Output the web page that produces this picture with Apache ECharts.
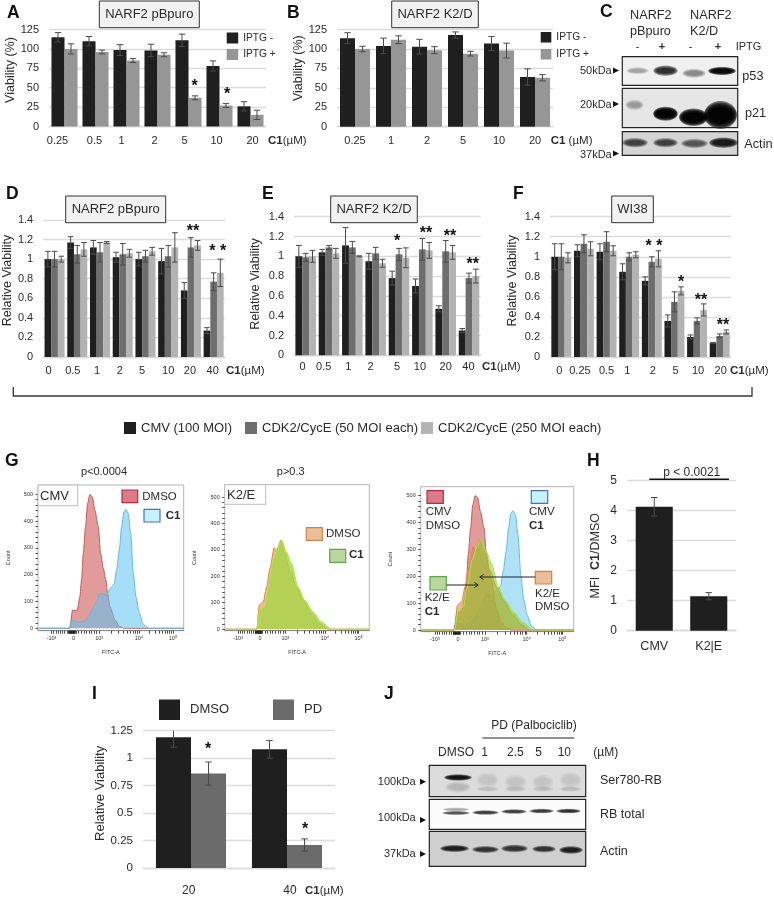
<!DOCTYPE html>
<html><head><meta charset="utf-8">
<style>html,body{margin:0;padding:0;background:#fff}#c{width:774px;height:899px}</style>
<script src="https://cdn.jsdelivr.net/npm/echarts@6/dist/echarts.min.js"></script>
</head><body><div id="c"></div>
<script>
// ---------- data ----------
const catA = ['0.25','0.5','1','2','5','10','20'];
const aMinus = [115,110,98.5,98,111,78,26];
const aPlus = [100,96,85,92.5,37,27,15];
const aMinusErr = [6,6,7,8,8,6.5,6];
const aPlusErr = [6.5,2.5,2.5,2.5,2.5,2.5,6];

const catB = ['0.25','1','2','5','10','20'];
const bMinus = [114,104,103,118,107,64];
const bPlus = [100,112,98.5,94,98,63];
const bMinusErr = [7,10,9.5,4,9,10.5];
const bPlusErr = [3.5,5,4.5,3,9.5,4];

const catD = ['0','0.5','1','2','5','10','20','40'];
const dCmv = [1,1.17,1.12,1.02,1,0.98,0.68,0.27];
const dLow = [1,1.05,1.07,1.05,1.03,1.03,1.12,0.77];
const dHigh = [1,1.1,1.17,1.06,1.08,1.12,1.14,0.86];
const dCmvErr = [0.08,0.06,0.07,0.05,0.07,0.13,0.08,0.03];
const dLowErr = [0.08,0.09,0.1,0.11,0.06,0.11,0.1,0.09];
const dHighErr = [0.03,0.07,0.01,0.04,0.04,0.15,0.05,0.14];

const catE = ['0','0.5','1','2','5','10','20','40'];
const eCmv = [1,1.04,1.11,0.95,0.78,0.7,0.47,0.25];
const eLow = [0.99,1.09,1.09,1.03,1.02,1.07,1.05,0.78];
const eHigh = [1,1.03,1,0.93,0.985,1.06,1.04,0.8];
const eCmvErr = [0.11,0.03,0.18,0.08,0.07,0.07,0.03,0.02];
const eLowErr = [0.04,0.02,0.06,0.06,0.06,0.11,0.11,0.05];
const eHighErr = [0.06,0.05,0.005,0.04,0.1,0.08,0.07,0.07];

const catF = ['0','0.25','0.5','1','2','5','10','20'];
const fCmv = [1,1.06,1.05,0.85,0.76,0.36,0.2,0.14];
const fLow = [1,1.13,1.15,1,0.95,0.55,0.36,0.21];
const fHigh = [0.99,1.08,1.06,1.02,0.98,0.66,0.47,0.25];
const fCmvErr = [0.13,0.06,0.08,0.08,0.04,0.06,0.02,0.005];
const fLowErr = [0.13,0.09,0.1,0.04,0.05,0.1,0.03,0.02];
const fHighErr = [0.05,0.07,0.05,0.03,0.08,0.04,0.06,0.02];

const catH = ['CMV','K2|E'];
const hVal = [4.13,1.15];
const hErr = [0.31,0.12];

const catI = ['20','40'];
const iDmso = [1.19,1.08];
const iPd = [0.86,0.21];
const iDmsoErr = [0.09,0.08];
const iPdErr = [0.105,0.055];

// flow histograms: [FITC-A display channel, count]
const cmvDmso = [[-35,0],[-3.7,0],[-1,68],[1.3,66],[3.7,68],[6.3,118],[8,180],[9.7,280],[12,380],[14,466],[16.3,500],[18.7,491],[21.3,441],[24.7,380],[27,280],[29.7,224],[32.3,180],[34,130],[36.3,81],[41.3,31],[46.3,6],[51,0],[110,0]];
const cmvC1 = [[-35,0],[-4.3,0],[-2,31],[1.3,25],[6.3,21],[11.3,27],[14.7,44],[19.7,75],[23,100],[26.3,130],[29.7,128],[33,124],[36.3,149],[40.3,162],[43,218],[45.7,292],[48,379],[50.3,435],[52.3,444],[54.7,429],[57,354],[59.7,205],[62.3,118],[65.7,56],[69.7,15],[74.7,0],[110,0]];
const k2Dmso = [[-35,0],[-3.3,0],[-0.7,91],[3.3,104],[6.7,160],[10,230],[14.3,309],[16.7,293],[21,337],[25,287],[30,223],[36.7,160],[43.3,110],[51.7,59],[60,21],[68.3,0],[110,0]];
const k2C1 = [[-35,0],[-3.3,0],[0,72],[5,85],[8.3,154],[13.3,261],[18.3,312],[21.7,337],[26.7,293],[31.7,249],[38.3,160],[45,110],[53.3,66],[61.7,28],[71.7,0],[110,0]];

const histTickValues = [-22,0,25.6,65.3,99.3];
const histTickLabels = ['-10³','0','10³','10⁴','10⁵'];
const histYTicks = [0,100,200,300,400,500];

// ---------- helpers ----------
const FONT = '"Liberation Sans", Arial, sans-serif';
const BLACK = '#1f1f1f', GRID = '#dcdcdc', TXT = '#2b2b2b';
const grids = [], xAxes = [], yAxes = [], series = [], graphic = [];

function errSeries(ax, vals, errs, n, k, gap) {
  return { type:'custom', name:'err', xAxisIndex:ax, yAxisIndex:ax, clip:true, silent:true, z:5,
    encode:{x:0,y:1}, data: vals.map((v,i)=>[i,v,errs[i]]),
    renderItem:(p,api)=>{
      const c=api.value(0), v=api.value(1), e=api.value(2);
      const band=api.size([1,0])[0], bw=band*(1-gap)/n;
      const x=api.coord([c,v])[0]+(k-(n-1)/2)*bw;
      const t=api.coord([c,v+e])[1], b=api.coord([c,v-e])[1], cap=Math.min(3.2,bw*0.3+0.8);
      const st={stroke:'#4a4a4a',lineWidth:1,fill:'none'};
      return {type:'group',children:[
        {type:'line',shape:{x1:x,y1:t,x2:x,y2:b},style:st},
        {type:'line',shape:{x1:x-cap,y1:t,x2:x+cap,y2:t},style:st},
        {type:'line',shape:{x1:x-cap,y1:b,x2:x+cap,y2:b},style:st}]};
    }};
}
function barPanel(o) {
  const ax=grids.length, gap=o.gap;
  grids.push({left:o.left,top:o.top,width:o.width,height:o.bottom-o.top});
  const rich={}; const off=o.labelOff||[];
  off.forEach((d,i)=>{ rich['s'+i]={fontFamily:FONT,fontSize:o.xFont||11,color:TXT,
    padding: d<0?[0,-2*d,0,0]:[0,0,0,2*d]}; });
  xAxes.push({gridIndex:ax,type:'category',data:o.cats,
    axisLine:{lineStyle:{color:GRID,width:1.3}},axisTick:{show:false},
    axisLabel:{interval:0,margin:o.xMargin||9,fontFamily:FONT,fontSize:o.xFont||11,color:TXT,rich,
      formatter:(v,i)=> off.length?`{s${i}|${v}}`:v}});
  yAxes.push({gridIndex:ax,type:'value',min:0,max:o.max,interval:o.interval,
    name:o.yName,nameLocation:'middle',nameGap:o.nameGap,nameRotate:90,
    nameTextStyle:{fontFamily:FONT,fontSize:o.nameFont||12.5,color:TXT,padding:o.namePad||0,rich:o.nameRich},
    axisLine:{show:false},axisTick:{show:false},
    axisLabel:{margin:10,fontFamily:FONT,fontSize:o.yFont||11,color:TXT},
    splitLine:{lineStyle:{color:GRID,width:1.3}}});
  const n=o.vals.length;
  o.vals.forEach((s,k)=>{
    series.push({type:'bar',name:s.name,xAxisIndex:ax,yAxisIndex:ax,data:s.data,barGap:0,
      barCategoryGap:(gap*100)+'%',itemStyle:{color:s.color},z:3,silent:true});
  });
  o.vals.forEach((s,k)=>series.push(errSeries(ax,s.data,s.err,n,k,gap)));
}
function T(x,y,text,size,opt) {
  opt=opt||{};
  const style={x,y,text:String(text),fontFamily:FONT,fontSize:size,fontWeight:opt.bold?'bold':'normal',
    fill:opt.color||TXT,align:opt.align||'left',verticalAlign:'middle'};
  if(opt.rich) style.rich=opt.rich;
  graphic.push({type:'text',z:120,silent:true,rotation:opt.rot||0,originX:x,originY:y,style});
}
function R(x0,y0,x1,y1,fill,stroke,lw) {
  graphic.push({type:'rect',z:110,silent:true,shape:{x:x0,y:y0,width:x1-x0,height:y1-y0},
    style:{fill:fill,stroke:stroke||null,lineWidth:lw||1}});
}
function L(pts,color,lw) {
  graphic.push({type:'polyline',z:115,silent:true,shape:{points:pts},style:{stroke:color||'#333',lineWidth:lw||1,fill:null}});
}
function Tri(x,y,dir) { // small black triangular marker
  dir=dir||1;
  graphic.push({type:'polygon',z:116,silent:true,
    shape:{points:[[x,y-3],[x+6*dir,y],[x,y+3]]},style:{fill:'#111'}});
}
function titleBox(x0,y0,x1,y1,text) {
  R(x0,y0,x1,y1,'#f2f2f2','#333',1);
  T((x0+x1)/2,(y0+y1)/2,text,13,{align:'center'});
}
function C1um(x,y,sep) {
  T(x,y,`{b|C1}{n|${sep}(µM)}`,11.5,{rich:{
    b:{fontFamily:FONT,fontSize:11.5,fontWeight:'bold',fill:TXT,color:TXT},
    n:{fontFamily:FONT,fontSize:11.5,color:TXT,fill:TXT}}});
}
function star(x,y,s) { T(x,y+3,s||'*',16,{align:'center',bold:true,color:'#111'}); }
function blot(x0,y0,x1,y1,bg,bands) {
  R(x0,y0,x1,y1,bg);
  const layers=[1.16,1.04,0.92,0.8,0.68,0.56];
  bands.forEach(b=>{
    const a=Math.min(b[4],0.985), per=1-Math.pow(1-a,1/layers.length), col=`rgba(0,0,0,${per.toFixed(3)})`;
    layers.forEach(f=>{
      graphic.push({type:'ellipse',z:112,silent:true,
        shape:{cx:(b[0]+b[1])/2,cy:b[2],rx:(b[1]-b[0])/2*(f<1?Math.sqrt(f):Math.min(f,1.06)),ry:b[3]/2*f},
        style:{fill:col}});
    });
  });
  R(x0,y0,x1,y1,null,'#222',1.2);
  graphic[graphic.length-1].z=114;
}

// ---------- panels A, B ----------
const G1='#969696';
barPanel({left:49,width:217,top:29.5,bottom:126.5,cats:catA,max:125,interval:25,gap:0.16,
  yName:'Viability (%)',nameGap:29,nameFont:12.5,namePad:[0,0,0,16],xMargin:9,labelOff:[-7,-1,-5,-3,-4,-3,2],
  vals:[{name:'IPTG -',data:aMinus,err:aMinusErr,color:BLACK},{name:'IPTG +',data:aPlus,err:aPlusErr,color:G1}]});
barPanel({left:337,width:216,top:29.6,bottom:126.7,cats:catB,max:125,interval:25,gap:0.167,
  yName:'Viability (%)',nameGap:29,nameFont:12.5,namePad:[0,0,0,20],xMargin:9,
  vals:[{name:'IPTG - ',data:bMinus,err:bMinusErr,color:BLACK},{name:'IPTG + ',data:bPlus,err:bPlusErr,color:G1}]});

// ---------- panels D, E, F ----------
const CMV='CMV (100 MOI)', LOW='CDK2/CycE (50 MOI each)', HIGH='CDK2/CycE (250 MOI each)';
const M1='#1f1f1f', M2='#6e6e6e', M3='#b3b3b3';
barPanel({left:41,width:184,top:220,bottom:357,cats:catD,max:1.4,interval:0.2,gap:0.12,
  yName:'Relative Viability',nameGap:29,namePad:[0,0,0,16],xMargin:8,labelOff:[-6,-4.5,-3,-3,-3.5,0,-1,-1],
  vals:[{name:CMV,data:dCmv,err:dCmvErr,color:M1},{name:LOW,data:dLow,err:dLowErr,color:M2},{name:HIGH,data:dHigh,err:dHighErr,color:M3}]});
barPanel({left:294,width:186.7,top:216.7,bottom:355.3,cats:catE,max:1.4,interval:0.2,gap:0.12,
  yName:'Relative Viability',nameGap:32,namePad:[0,0,0,4],xMargin:6,labelOff:[-3,-5.3,-4,-5,-2,-2.4,0,-0.6],
  vals:[{name:CMV,data:eCmv,err:eCmvErr,color:M1},{name:LOW,data:eLow,err:eLowErr,color:M2},{name:HIGH,data:eHigh,err:eHighErr,color:M3}]});
barPanel({left:550,width:181,top:216.7,bottom:357,cats:catF,max:1.4,interval:0.2,gap:0.12,
  yName:'Relative Viability',nameGap:31,namePad:[0,0,0,12],xMargin:8,labelOff:[-2,-4,0,-2,1,1,1,1],
  vals:[{name:CMV,data:fCmv,err:fCmvErr,color:M1},{name:LOW,data:fLow,err:fLowErr,color:M2},{name:HIGH,data:fHigh,err:fHighErr,color:M3}]});

// ---------- panel H ----------
barPanel({left:627,width:109,top:480.7,bottom:630.7,cats:catH,max:5,interval:1,gap:0.32,
  yName:'{a|MFI  }{b|C1}{a|/DMSO}',nameGap:25,yFont:12,xFont:12.5,xMargin:9,
  nameRich:{a:{fontFamily:FONT,fontSize:12.5,color:TXT},b:{fontFamily:FONT,fontSize:12.5,fontWeight:'bold',color:TXT}},
  vals:[{name:'MFI',data:hVal,err:hErr,color:BLACK}]});

// ---------- panel I ----------
barPanel({left:143,width:192,top:730.7,bottom:868,cats:catI,max:1.25,interval:0.25,gap:0.27,
  yName:'Relative Viability',nameGap:36,yFont:11.5,nameFont:13,namePad:[0,0,0,12],xFont:12,xMargin:17,labelOff:[-2.3,3],
  vals:[{name:'DMSO',data:iDmso,err:iDmsoErr,color:BLACK},{name:'PD',data:iPd,err:iPdErr,color:'#6b6b6b'}]});

// ---------- panel G histograms ----------
const RED={fill:'rgba(195,55,55,0.5)',line:'#c25a5a'}, BLUE={fill:'rgba(95,195,240,0.55)',line:'#62bbdd'},
      ORG={fill:'rgba(222,130,60,0.55)',line:'#dd8a45'}, GRN={fill:'rgba(165,215,70,0.8)',line:'#a8e84c'};
function minorX(){ const t=[]; for(let k=2;k<=9;k++){t.push(25.6+39.7*Math.log10(k)); t.push(65.3+34*Math.log10(k));}
  for(let k=1;k<=9;k++){t.push(25.6*k/10); t.push(-22*k/10);} for(let k=-5;k<=1.5;k+=0.5)t.push(k); return t; }
const minorY=[]; for(let v=0;v<=500;v+=20) minorY.push(v);
function histPanel(o){
  const ax=grids.length;
  grids.push({left:o.left,top:o.top,width:o.width,height:o.height,show:true,borderColor:'#b5b5b5',borderWidth:1,backgroundColor:'#fff'});
  const dark={lineStyle:{color:'#222',width:0.8}};
  xAxes.push({gridIndex:ax,type:'value',min:-35.5,max:110,position:'bottom',
    name:'FITC-A',nameLocation:'middle',nameGap:19,nameTextStyle:{fontFamily:FONT,fontSize:5.5,color:'#333'},
    splitLine:{show:false},axisLine:{onZero:false,lineStyle:{color:'#888',width:1}},
    axisTick:{length:3,customValues:histTickValues.concat(minorX()),...dark},
    axisLabel:{customValues:histTickValues,margin:5,fontFamily:FONT,fontSize:5.5,color:'#333',
      formatter:v=>histTickLabels[histTickValues.indexOf(v)]||''}});
  yAxes.push({gridIndex:ax,type:'value',min:o.ymin,max:o.ymax,
    name:'Count',nameLocation:'middle',nameGap:27,nameRotate:90,nameTextStyle:{fontFamily:FONT,fontSize:5.5,color:'#333'},
    splitLine:{show:false},axisLine:{onZero:false,show:false},
    axisTick:{show:true,length:2.5,customValues:minorY,...dark},
    axisLabel:{customValues:histYTicks,margin:5,fontFamily:FONT,fontSize:5.5,color:'#333'}});
  o.curves.forEach((c,i)=>series.push({type:'line',name:c.name,xAxisIndex:ax,yAxisIndex:ax,data:c.data,
    showSymbol:false,smooth:0.25,smoothMonotone:'x',silent:true,z:2+i,
    lineStyle:{color:c.st.line,width:1},areaStyle:{color:c.st.fill,opacity:1}}));
}
histPanel({left:38,width:145.7,top:485,height:145.7,ymin:-9,ymax:535,
  curves:[{name:'CMV DMSO ',data:cmvDmso,st:RED},{name:'CMV C1 ',data:cmvC1,st:BLUE}]});
histPanel({left:224.7,width:144.6,top:484.7,height:146,ymin:-6,ymax:547,
  curves:[{name:'K2/E DMSO ',data:k2Dmso,st:ORG},{name:'K2/E C1 ',data:k2C1,st:GRN}]});
histPanel({left:420.7,width:153,top:486.7,height:145,ymin:-6,ymax:533,
  curves:[{name:'CMV C1',data:cmvC1,st:{fill:'rgba(95,195,240,0.5)',line:'#62bbdd'}},{name:'CMV DMSO',data:cmvDmso,st:RED},
          {name:'K2/E DMSO',data:k2Dmso,st:ORG},{name:'K2/E C1',data:k2C1,st:{fill:'rgba(150,205,60,0.6)',line:'#a8e84c'}}]});

// ---------- annotations ----------
[['A',7,13],['B',287,13],['C',600,12],['D',6,194],['E',262,194],['F',513,194],['G',5,461],['H',587,461],['I',92,694],['J',384,694]]
  .forEach(a=>T(a[1],a[2],a[0],17.5,{bold:true,color:'#111'}));

titleBox(99.3,1,199.3,27.7,'NARF2 pBpuro');
titleBox(391.7,1,478.3,27.7,'NARF2 K2/D');
titleBox(65.7,196,165.7,222.7,'NARF2 pBpuro');
titleBox(330.7,196,417.3,222.7,'NARF2 K2/D');
titleBox(611.7,196,653.3,222.7,'WI38');

C1um(268,141,''); C1um(550.7,141,' '); C1um(226,371,''); C1um(482,367,''); C1um(730,371,''); C1um(305,891,'');

star(194.7,84); star(227,92);
star(193,229,'**'); star(217.7,249,'* *');
star(397,239); star(426,231,'**'); star(450,234,'**'); star(472.7,262,'**');
star(654,244,'* *'); star(681,280); star(701,298,'**'); star(723,323,'**');
star(208,747); star(305,827);

L([[13.3,387],[13.3,396],[752,396],[752,387]],'#333',1.3);

// G labels
T(104,472,'p<0.0004',11,{align:'center'}); T(290.7,472,'p>0.3',11,{align:'center'});
const sw=(x0,y0,x1,y1,f,s)=>R(x0,y0,x1,y1,f,s,1.2);
R(38,485,77.7,505.7,'#fff','#bdbdbd',1); T(40,496.7,'CMV',13);
sw(122,490,137.7,502.7,'#dc7a8a','#b03040'); T(142.3,497.3,'DMSO',11.5);
sw(144,509.3,160,522,'#c5f3fb','#4a6fc8'); T(165.7,516,'C1',11.5,{bold:true});
R(224.7,484.7,265.7,504.3,'#fff','#bdbdbd',1); T(227,495.7,'K2/E',13);
sw(306.3,527.7,322.3,540.3,'#e8bf9a','#d98040'); T(326,534,'DMSO',11.5);
sw(329.7,549.3,345.7,562.3,'#bcd6a0','#5aa84a'); T(349,555,'C1',11.5,{bold:true});
sw(427,490.7,443.3,503.3,'#dc7a8a','#b03040'); T(425.7,512,'CMV',11.5); T(425.7,526,'DMSO',11.5);
sw(531.3,490.7,547.7,503.3,'#c5f3fb','#4a6fc8'); T(529,512,'CMV',11.5); T(529,526,'C1',11.5,{bold:true});
sw(430,576.7,446.3,590,'#bcd6a0','#5aa84a'); T(424.7,597.7,'K2/E',11.5); T(424.7,611.7,'C1',11.5,{bold:true});
sw(535.3,571.3,551.7,584,'#e8bf9a','#d98040'); T(535,593.7,'K2/E',11.5); T(535,607.3,'DMSO',11.5);
L([[446.7,585],[478,585]],'#222',1); L([[474.5,582.5],[478.3,585],[474.5,587.5]],'#222',1);
L([[535.3,577],[480,577]],'#222',1); L([[483.5,574.5],[479.7,577],[483.5,579.5]],'#222',1);

// H annotation
T(691.7,472.3,'p < 0.0021',12,{align:'center'});
L([[649.3,479.3],[729,479.3]],'#111',1.4);

// C blot
T(630,15,'NARF2',12.7); T(630,31.7,'pBpuro',12.7); T(690,15,'NARF2',12.7); T(690,31.7,'K2/D',12.7);
T(637.7,46.7,'-',11,{align:'center'}); T(662,46.7,'+',11,{align:'center',bold:true});
T(690.7,46.7,'-',11,{align:'center'}); T(718,46.7,'+',11,{align:'center',bold:true}); T(735.7,46.7,'IPTG',11);
blot(622.3,56.7,737.7,85.3,'#f0f0f0',[[627,648,70.7,6,0.3],[654,677,70.7,9,0.8],[683,705,73.3,8,0.42],[709,735,71,7,0.95]]);
blot(622.3,88.3,737.7,127.7,'#e6e6e6',[[626,643,105,9,0.32],[654,677,113.7,12,1],[680,707,117.3,15,1],[705,736,115,24,1]]);
blot(622.3,131.7,737.7,155.3,'#d4d4d4',[[623,647,142.7,8,0.7],[654,677,142.7,8,0.7],[682,707,143.5,8,0.6],[710,737,142.7,9,0.88]]);
T(611.7,71.3,'50kDa',11,{align:'right'}); Tri(613,70.5);
T(611.7,105,'20kDa',11,{align:'right'}); Tri(613,104);
T(611.7,155,'37kDa',11,{align:'right'}); Tri(613,153.5);
T(742.3,76.7,'p53',12.7); T(745,113,'p21',12.7); T(744.3,144,'Actin',12.7);

// J blot
T(534,725.7,'PD (Palbociclib)',12,{align:'center'});
L([[482.3,738],[574.3,738]],'#222',1.2);
T(456,752.7,'DMSO',12,{align:'center'}); T(484.7,752.7,'1',12,{align:'center'}); T(515.3,752.7,'2.5',12,{align:'center'});
T(538.7,752.7,'5',12,{align:'center'}); T(564.3,752.7,'10',12,{align:'center'}); T(605.7,752.7,'(µM)',12,{align:'center'});
blot(429.3,765.3,585.7,796.7,'#dcdcdc',[[445,471,777.5,5.5,0.9],[446,470,787,10,0.16],[477,498,780,14,0.08],[477,498,789,5,0.12],[505,526,782,14,0.08],[505,526,789,5,0.12],[533,553,782,14,0.08],[533,553,789,5,0.12],[560,581,780,15,0.1],[560,581,789,5,0.14]]);
blot(429.3,799.3,585.7,829.3,'#fbfbfb',[[443,469,809.5,3.5,0.3],[443,469,813,3.5,0.65],[473,498,812.5,4,0.75],[502,526,811.5,4,0.75],[530,553,811,4,0.75],[557,580,811,4,0.8]]);
blot(429.3,831.3,585.7,866.3,'#cfcfcf',[[441,468,848.5,6,0.85],[473,498,849.5,6,0.75],[502,527,848.5,6.5,0.75],[533,555,849,6,0.75],[560,582,850,6.5,0.85]]);
T(415.7,781.7,'100kDa',11,{align:'right'}); Tri(420,781.7);
T(415.7,817.7,'100kDa',11,{align:'right'}); Tri(420,820);
T(415.7,854,'37kDa',11,{align:'right'}); Tri(420,854);
T(600,781,'Ser780-RB',12.5); T(600,814.7,'RB total',12.5); T(600,851.7,'Actin',12.5);

// ---------- chart ----------
const legendBase={selectedMode:false,icon:'rect',padding:0};
const dLegendText={fontFamily:FONT,fontSize:13,color:TXT};
const chart=echarts.init(document.getElementById('c'),null,{renderer:'canvas'});
chart.setOption({
  animation:false,backgroundColor:'#fff',
  textStyle:{fontFamily:FONT},
  grid:grids,xAxis:xAxes,yAxis:yAxes,series,graphic:{elements:graphic},
  legend:[
    {...legendBase,left:226.7,top:32.5,orient:'vertical',itemWidth:11.5,itemHeight:11,itemGap:5.5,
      data:['IPTG -','IPTG +'],textStyle:{fontFamily:FONT,fontSize:10.2,color:TXT}},
    {...legendBase,left:540.7,top:32,orient:'vertical',itemWidth:10.6,itemHeight:10.5,itemGap:6.5,
      data:['IPTG - ','IPTG + '],textStyle:{fontFamily:FONT,fontSize:10.2,color:TXT}},
    {...legendBase,left:124,top:421.5,itemWidth:12,itemHeight:12,data:[CMV],textStyle:dLegendText},
    {...legendBase,left:245,top:421.5,itemWidth:12,itemHeight:12,data:[LOW],textStyle:dLegendText},
    {...legendBase,left:421,top:421.5,itemWidth:12,itemHeight:12,data:[HIGH],textStyle:dLegendText},
    {...legendBase,left:159,top:699.5,orient:'horizontal',itemWidth:21,itemHeight:20.5,itemGap:44,
      data:['DMSO','PD'],textStyle:{fontFamily:FONT,fontSize:13,color:TXT,padding:[0,0,0,5]}}
  ]
});
</script></body></html>
